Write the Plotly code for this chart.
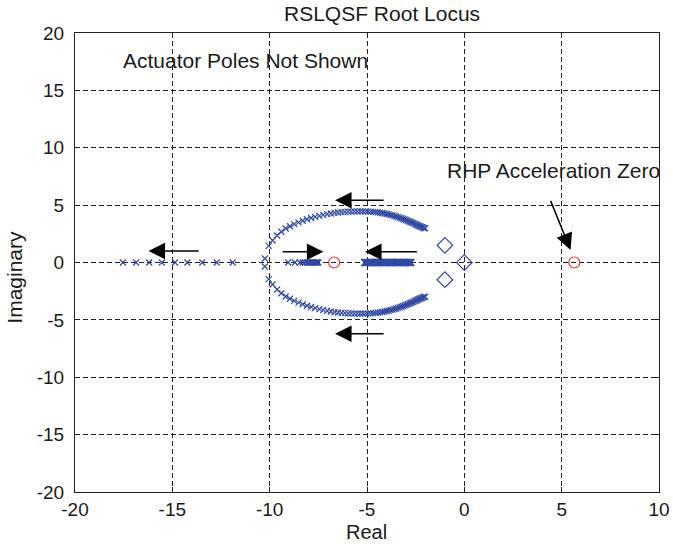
import plotly.graph_objects as go

# ---------------- data ----------------
# real-axis branch heading left (far left)
left_real_x = [-17.54, -16.86, -16.19, -15.54, -14.86, -14.23, -13.46, -12.72, -11.90]
# breakaway points near -10
brk_x = [-10.25, -10.25]
brk_y = [0.35, -0.35]
# short real-axis branch moving right toward the LHP zero
mid_real_x = [-9.05, -8.70, -8.45, -8.30, -8.18, -8.08, -7.99, -7.91, -7.84, -7.77,
              -7.71, -7.65, -7.60, -7.55, -7.50]
# dense real-axis segment
dense_real_x = [-5.12, -5.06, -5.00, -4.94, -4.88, -4.82, -4.76, -4.70, -4.64, -4.58,
                -4.52, -4.46, -4.40, -4.34, -4.28, -4.22, -4.16, -4.10, -4.04, -3.98,
                -3.92, -3.86, -3.80, -3.74, -3.68, -3.62, -3.56, -3.50, -3.44, -3.38,
                -3.32, -3.26, -3.20, -3.14, -3.08, -3.02, -2.96, -2.90, -2.84, -2.78, -2.75]
# complex branch (upper half; lower half is its conjugate)
cplx_x = [-10.05, -9.85, -9.62, -9.40, -9.18, -8.96, -8.74, -8.52, -8.30, -8.08,
          -7.87, -7.66, -7.45, -7.25, -7.05, -6.86, -6.67, -6.49, -6.31, -6.14,
          -5.97, -5.81, -5.65, -5.50, -5.35, -5.21, -5.07, -4.94, -4.81, -4.68,
          -4.56, -4.44, -4.32, -4.21, -4.10, -3.99, -3.89, -3.79, -3.69, -3.59,
          -3.50, -3.41, -3.32, -3.23, -3.15, -3.07, -2.99, -2.91, -2.83, -2.76,
          -2.69, -2.62, -2.55, -2.48, -2.42, -2.36, -2.30, -2.24, -2.18, -2.12,
          -2.06, -2.01]
cplx_y = [1.45, 1.92, 2.35, 2.68, 2.96, 3.16, 3.34, 3.50, 3.64, 3.77,
          3.88, 3.98, 4.07, 4.15, 4.21, 4.27, 4.32, 4.36, 4.39, 4.41,
          4.43, 4.44, 4.45, 4.45, 4.45, 4.45, 4.45, 4.44, 4.43, 4.41,
          4.39, 4.37, 4.34, 4.31, 4.27, 4.23, 4.19, 4.15, 4.11, 4.06,
          4.01, 3.96, 3.91, 3.86, 3.80, 3.75, 3.69, 3.64, 3.58, 3.53,
          3.48, 3.43, 3.37, 3.32, 3.27, 3.21, 3.16, 3.12, 3.08, 3.04,
          3.00, 2.97]
# open-loop poles (diamonds)
pole_x = [-1.0, -1.0, 0.0]
pole_y = [1.5, -1.5, 0.0]
# zeros (red circles)
zero_x = [-6.69, 5.65]
zero_y = [0.0, 0.0]

# arrows: (tail_x, tail_y, head_x, head_y)
arrows = [
    (-4.07, 5.43, -6.64, 5.43),
    (-4.07, -6.2, -6.64, -6.2),
    (-2.36, 0.94, -5.10, 0.94),
    (-9.41, 0.94, -7.24, 0.94),
    (-13.57, 1.0, -16.22, 1.0),
    (4.40, 5.50, 5.46, 1.09),
]

x_ticks = [-20, -15, -10, -5, 0, 5, 10]
y_ticks = [-20, -15, -10, -5, 0, 5, 10, 15, 20]

blue = "#3049a6"
red = "#e8332b"
FONT = "Liberation Sans, Arial, Helvetica, sans-serif"

xmark = dict(symbol="x-thin", size=6, color=blue, line=dict(color=blue, width=1.2))

fig = go.Figure()
fig.add_trace(go.Scatter(x=left_real_x, y=[0] * len(left_real_x), mode="markers", marker=xmark))
fig.add_trace(go.Scatter(x=brk_x, y=brk_y, mode="markers", marker=xmark))
fig.add_trace(go.Scatter(x=mid_real_x, y=[0] * len(mid_real_x), mode="markers", marker=xmark))
fig.add_trace(go.Scatter(x=dense_real_x, y=[0] * len(dense_real_x), mode="markers",
                         marker=dict(symbol="x-thin", size=7, color=blue, line=dict(color=blue, width=1.4))))
fig.add_trace(go.Scatter(x=cplx_x, y=cplx_y, mode="markers", marker=xmark))
fig.add_trace(go.Scatter(x=cplx_x, y=[-v for v in cplx_y], mode="markers", marker=xmark))
fig.add_trace(go.Scatter(x=pole_x, y=pole_y, mode="markers",
                         marker=dict(symbol="diamond-open", size=12, color=blue,
                                     line=dict(color=blue, width=1.2))))
fig.add_trace(go.Scatter(x=zero_x, y=zero_y, mode="markers",
                         marker=dict(symbol="circle-open", size=11, color=red,
                                     line=dict(color=red, width=1.2))))

annotations = []
for tx, ty, hx, hy in arrows:
    annotations.append(dict(x=hx, y=hy, ax=tx, ay=ty, xref="x", yref="y", axref="x", ayref="y",
                            text="", showarrow=True, arrowhead=2, arrowsize=2.2,
                            arrowwidth=1.5, arrowcolor="black", standoff=0, startstandoff=0))

annotations += [
    dict(x=-17.65, y=17.6, xref="x", yref="y", text="Actuator Poles Not Shown",
         showarrow=False, xanchor="left", yanchor="middle", font=dict(size=21, color="#1a1a1a")),
    dict(x=-0.99, y=8.0, xref="x", yref="y", text="RHP Acceleration Zero",
         showarrow=False, xanchor="left", yanchor="middle", font=dict(size=21, color="#1a1a1a")),
    dict(x=0.5257, y=1.043, xref="paper", yref="paper", text="RSLQSF Root Locus",
         showarrow=False, xanchor="center", yanchor="middle", font=dict(size=21, color="#1a1a1a")),
    dict(x=0.4995, y=-0.0865, xref="paper", yref="paper", text="Real",
         showarrow=False, xanchor="center", yanchor="middle", font=dict(size=20, color="#1a1a1a")),
    dict(x=-0.1036, y=0.468, xref="paper", yref="paper", text="Imaginary", textangle=-90,
         showarrow=False, xanchor="center", yanchor="middle", font=dict(size=21, color="#1a1a1a")),
]

axis_common = dict(
    showgrid=True, gridcolor="#222222", gridwidth=1, griddash="5px,3px",
    zeroline=False, showline=True, linecolor="#222222", linewidth=1.2, mirror="ticks",
    ticks="inside", ticklen=5, tickcolor="#222222", tickwidth=1,
    tickfont=dict(size=19, color="#1a1a1a"), automargin=False,
)

fig.update_layout(
    width=673, height=544,
    margin=dict(l=75, r=14, t=33, b=52),
    paper_bgcolor="white", plot_bgcolor="white",
    showlegend=False,
    hovermode=False,
    font=dict(family=FONT, color="#1a1a1a"),
    xaxis=dict(range=[-20, 10], tickvals=x_ticks, ticktext=[str(v) for v in x_ticks],
               ticklabelstandoff=0, **axis_common),
    yaxis=dict(range=[-20, 20], tickvals=y_ticks, ticktext=[str(v) for v in y_ticks],
               ticklabelstandoff=6, **axis_common),
    annotations=annotations,
)

fig.write_html("out.html", config={"displayModeBar": False},
               post_script="document.body.style.margin='0';document.body.style.padding='0';")
